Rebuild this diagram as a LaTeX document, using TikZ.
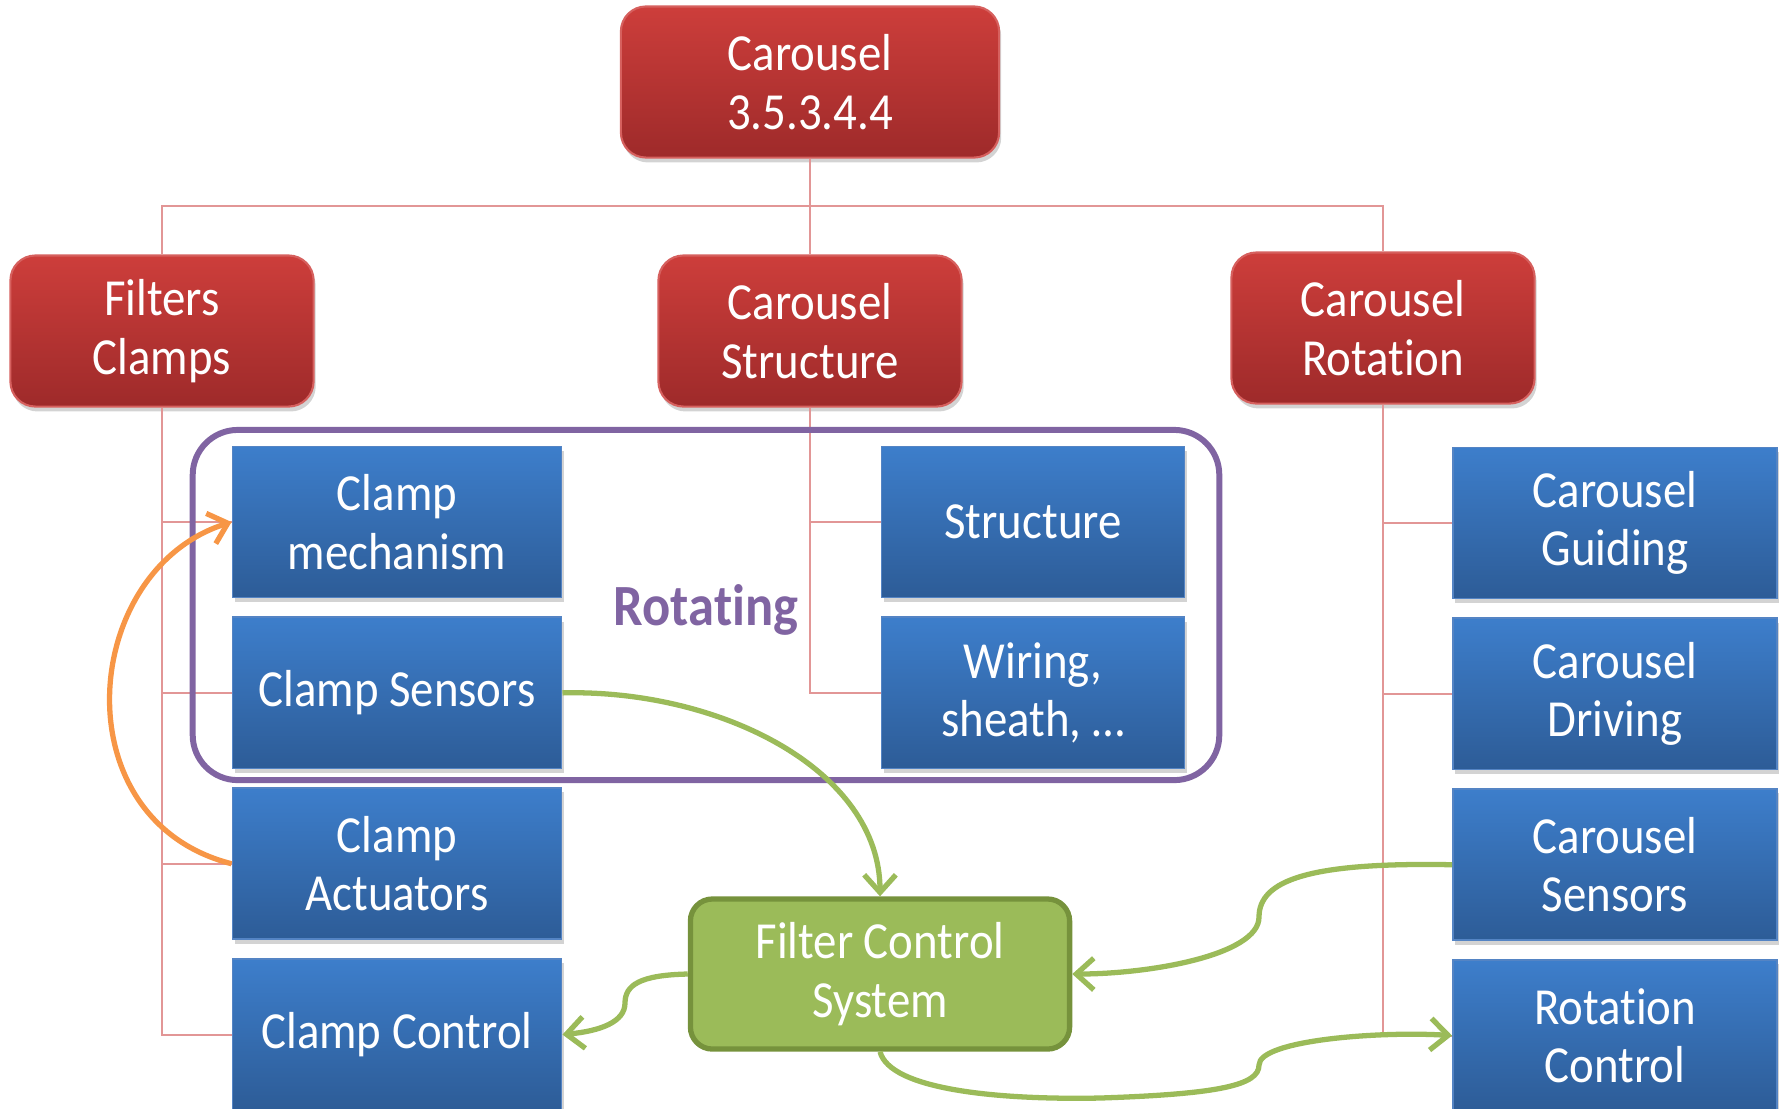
\documentclass[tikz,border=0pt]{standalone}
\usepackage{fontspec}
\setmainfont{Carlito}[FakeStretch=0.9, Ligatures=NoCommon]
\usepackage{tikz}
\usetikzlibrary{positioning,shadows,arrows.meta}
\definecolor{boxred}{RGB}{205,62,59}
\definecolor{boxredd}{RGB}{158,42,42}
\definecolor{boxredl}{RGB}{214,96,94}
\definecolor{boxblue}{RGB}{61,126,203}
\definecolor{boxblued}{RGB}{45,92,151}
\definecolor{boxbluel}{RGB}{84,132,196}
\definecolor{fcsgreen}{RGB}{155,187,89}
\definecolor{fcsgreend}{RGB}{118,146,60}
\definecolor{rotpurple}{RGB}{128,100,162}
\definecolor{linkorange}{RGB}{247,150,70}
\definecolor{treered}{RGB}{226,150,150}

\begin{document}
\begin{tikzpicture}[
  x=0.01cm, y=-0.01cm,
  node distance=0.18cm,
  every node/.style={font=\fontsize{14.8}{16.6}\selectfont, text=white, align=center},
  hdbox/.style={
    rectangle, rounded corners=0.25cm,
    top color=boxred, bottom color=boxredd,
    draw=boxredl, line width=0.6pt,
    minimum width=3.03cm, minimum height=1.51cm,
    drop shadow={shadow xshift=0.6pt, shadow yshift=-1.4pt, opacity=0.35}
  },
  subbox/.style={
    rectangle, top color=boxblue, bottom color=boxblued,
    draw=boxbluel, line width=0.5pt,
    minimum height=1.51cm,
    drop shadow={shadow xshift=0.6pt, shadow yshift=-1.2pt, opacity=0.35}
  },
  fcsbox/.style={
    rectangle, rounded corners=0.22cm,
    fill=fcsgreen, draw=fcsgreend, line width=1.5pt,
    minimum width=3.79cm, minimum height=1.5cm
  },
  tree/.style={draw=treered, line width=0.6pt},
  link/.style={draw=fcsgreen, line width=1.5pt,
    -{Straight Barb[length=5pt,width=9pt,line width=1.5pt]}},
  orangelink/.style={link, draw=linkorange}
]
\useasboundingbox (0,0) rectangle (1783,1108);

% top level
\node[hdbox, minimum width=3.78cm] (top) at (810,82) {Carousel\\3.5.3.4.4};
\node[hdbox] (fc) at (162,331) {Filters\\Clamps};
\node[hdbox] (cs) at (810,331) {Carousel\\Structure};
\node[hdbox] (cr) at (1383,328) {Carousel\\Rotation};

% filters clamps
\node[subbox, minimum width=3.29cm] (cmech) at (397,522) {Clamp\\mechanism};
\node[subbox, minimum width=3.29cm, below=of cmech] (csens) {Clamp Sensors};
\node[subbox, minimum width=3.29cm, below=of csens] (cact) {Clamp\\Actuators};
\node[subbox, minimum width=3.29cm, below=of cact] (cctrl) {Clamp Control};

% carousel structure
\node[subbox, minimum width=3.03cm] (struct) at (1033,522) {Structure};
\node[subbox, minimum width=3.03cm, below=of struct] (wiring) {Wiring,\\sheath, \dots};

% carousel rotation
\node[subbox, minimum width=3.24cm] (cguide) at (1615,523) {Carousel\\Guiding};
\node[subbox, minimum width=3.24cm, below=of cguide] (cdrive) {Carousel\\Driving};
\node[subbox, minimum width=3.24cm, below=of cdrive] (csensr) {Carousel\\Sensors};
\node[subbox, minimum width=3.24cm, below=of csensr] (rotctl) {Rotation\\Control};

\node[fcsbox] (fcs) at (880,974) {Filter Control\\System};

% tree
\draw[tree] (top.south) -- (cs.north);
\draw[tree] (fc.north) |- (810,206) -| (cr.north);
\foreach \n in {cmech,csens,cact,cctrl}
  \draw[tree] (fc.south) |- (\n.west);
\foreach \n in {struct,wiring}
  \draw[tree] (cs.south) |- (\n.west);
\foreach \n in {cguide,cdrive,csensr,rotctl}
  \draw[tree] (cr.south) |- (\n.west);

% rotating group
\node[draw=rotpurple, line width=1.7pt, rounded corners=0.45cm,
  minimum width=10.26cm, minimum height=3.5cm] (rotgrp) at (706,605) {};
\node[text=rotpurple, font=\bfseries\fontsize{16.6}{18}\selectfont] (rottxt) at (706,610) {Rotating};

% links
\draw[orangelink] (cact.west) .. controls (60,820) and (80,570) .. (cmech.west);
\draw[link] (csens.east) .. controls (720,689) and (880,770) .. (fcs.north);
\draw[link] (csensr.west) .. controls (1310,862) and (1259,880) .. (1259,917)
  .. controls (1259,955) and (1150,974) .. (fcs.east);
\draw[link] (fcs.west) .. controls (640,975) and (625,985) .. (625,1003)
  .. controls (625,1022) and (600,1031) .. (cctrl.east);
\draw[link] (fcs.south) .. controls (890,1090) and (1000,1100) .. (1100,1098)
  .. controls (1220,1094) and (1259,1085) .. (1259,1065)
  .. controls (1259,1040) and (1380,1031) .. (rotctl.west);
\end{tikzpicture}
\end{document}
